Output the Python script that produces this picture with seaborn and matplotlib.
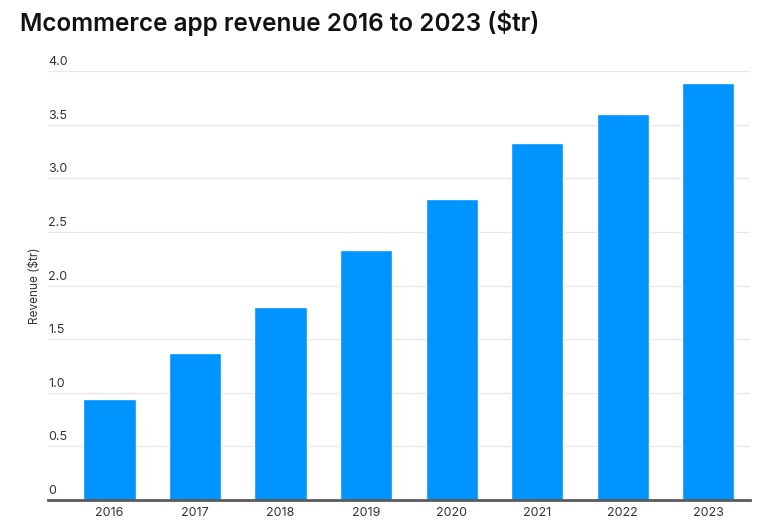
import matplotlib
matplotlib.use("Agg")
import matplotlib.pyplot as plt
import matplotlib.transforms as mtransforms
import seaborn as sns
import pandas as pd

years = ["2016", "2017", "2018", "2019", "2020", "2021", "2022", "2023"]
revenue = [0.94, 1.37, 1.80, 2.33, 2.81, 3.33, 3.60, 3.89]
yticks = [0, 0.5, 1.0, 1.5, 2.0, 2.5, 3.0, 3.5, 4.0]
ytick_labels = ["0", "0.5", "1.0", "1.5", "2.0", "2.5", "3.0", "3.5", "4.0"]

sns.set_theme(style="white")
plt.rcParams["font.family"] = ["Inter", "DejaVu Sans"]

df = pd.DataFrame({"year": years, "revenue": revenue})

fig = plt.figure(figsize=(7.61, 5.29), dpi=100)
ax = fig.add_axes([48 / 761, 1 - 500 / 529, (750 - 48) / 761, (500 - 71) / 529])

sns.barplot(data=df, x="year", y="revenue", color="#0094ff", saturation=1,
            width=0.61, ax=ax, zorder=3)

ax.set_xlim(-0.72, 7.49)
ax.set_ylim(0, 4.0)
ax.set_yticks(yticks)
ax.set_yticklabels(ytick_labels)
ax.grid(axis="y", color="#e8e8e8", linewidth=1, zorder=0)
ax.set_axisbelow(True)

for s in ["top", "right", "left"]:
    ax.spines[s].set_visible(False)
ax.spines["bottom"].set_color("#5a5a5a")
ax.spines["bottom"].set_linewidth(2)
ax.spines["bottom"].set_zorder(4)

ax.tick_params(axis="y", length=0, pad=0, labelsize=9, labelcolor="#333333")
ax.tick_params(axis="x", length=0, pad=5, labelsize=9, labelcolor="#333333")
offset = mtransforms.ScaledTranslation(0, 3 / 100, fig.dpi_scale_trans)
for lbl in ax.get_yticklabels():
    lbl.set_horizontalalignment("left")
    lbl.set_verticalalignment("bottom")
    lbl.set_transform(lbl.get_transform() + offset)

ax.set_xlabel("")
ax.set_ylabel("Revenue ($tr)", fontsize=8.5, color="#333333")
ax.yaxis.set_label_coords(-7 / 702, 0.5)

fig.text(20 / 761, 1 - 23 / 529, "Mcommerce app revenue 2016 to 2023 ($tr)",
         fontsize=17.5, fontweight="semibold", color="#111111", ha="left", va="center")

fig.savefig("out.png", dpi=100)
